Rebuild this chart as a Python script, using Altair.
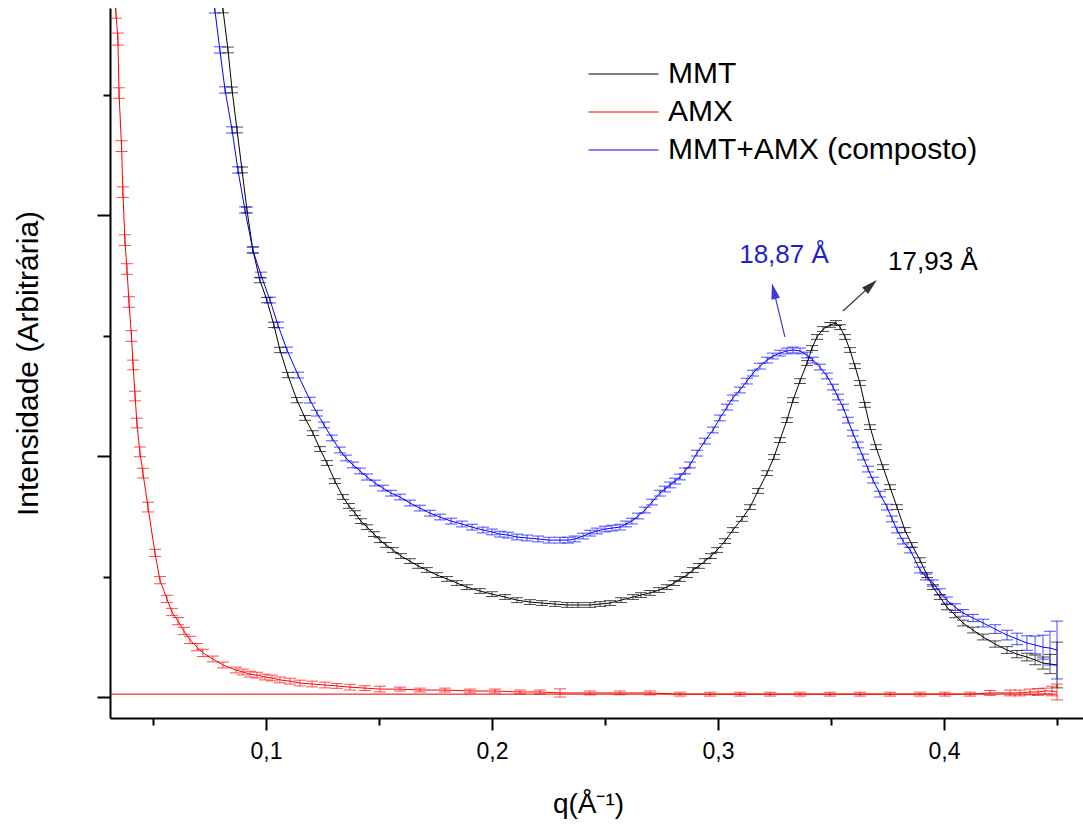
import altair as alt
import pandas as pd

SERIES = ["MMT", "AMX", "MMT+AMX (composto)"]
COLORS = ["#000000", "#ff0000", "#0000ff"]

# MMT (black)
mmt_q = [0.0801, 0.0810, 0.0832, 0.0850, 0.0872, 0.0894, 0.0916, 0.0942, 0.0973, 0.1004,
         0.1035, 0.1062, 0.1097, 0.1137, 0.1173, 0.1208, 0.1270, 0.1341, 0.1394, 0.1447,
         0.1504, 0.1562, 0.1637, 0.1712, 0.1801, 0.1889, 0.2000, 0.2111, 0.2221, 0.2332,
         0.2434, 0.2522, 0.2624, 0.2699, 0.2774, 0.2832, 0.2889, 0.2942, 0.2996, 0.3031,
         0.3066, 0.3106, 0.3142, 0.3177, 0.3217, 0.3248, 0.3274, 0.3305, 0.3332, 0.3363,
         0.3394, 0.3416, 0.3438, 0.3465, 0.3496, 0.3522, 0.3540, 0.3562, 0.3584, 0.3606,
         0.3628, 0.3650, 0.3673, 0.3699, 0.3730, 0.3761, 0.3792, 0.3827, 0.3858, 0.3894,
         0.3925, 0.3951, 0.3982, 0.4013, 0.4049, 0.4084, 0.4128, 0.4173, 0.4226, 0.4279,
         0.4323, 0.4367, 0.4403, 0.4438, 0.4469, 0.4500,
         0.1239, 0.1305, 0.1367, 0.1420, 0.1478, 0.1531, 0.1597, 0.1673, 0.1757, 0.1845,
         0.1947, 0.2058, 0.2168, 0.2279, 0.2381, 0.2478, 0.2571, 0.2659, 0.2739, 0.2805,
         0.2863, 0.2916, 0.2969]
mmt_i = [2.913, 2.851, 2.685, 2.519, 2.353, 2.187, 2.021, 1.855, 1.730, 1.647,
         1.544, 1.440, 1.336, 1.232, 1.158, 1.095, 0.971, 0.830, 0.763, 0.705,
         0.651, 0.610, 0.564, 0.527, 0.490, 0.456, 0.427, 0.402, 0.390, 0.382,
         0.382, 0.390, 0.415, 0.432, 0.456, 0.490, 0.527, 0.564, 0.610, 0.647,
         0.693, 0.739, 0.788, 0.855, 0.929, 0.996, 1.066, 1.149, 1.232, 1.311,
         1.386, 1.448, 1.494, 1.527, 1.544, 1.552, 1.535, 1.494, 1.440, 1.373,
         1.303, 1.212, 1.120, 1.037, 0.954, 0.871, 0.788, 0.693, 0.631, 0.568,
         0.506, 0.456, 0.415, 0.373, 0.340, 0.307, 0.278, 0.249, 0.220, 0.195,
         0.178, 0.166, 0.154, 0.141, 0.137, 0.133,
         1.029, 0.896, 0.793, 0.730, 0.676, 0.631, 0.585, 0.544, 0.506, 0.473,
         0.440, 0.415, 0.394, 0.386, 0.382, 0.386, 0.402, 0.423, 0.444, 0.473,
         0.506, 0.544, 0.585]
mmt_err = [0.012, 0.012, 0.012, 0.012, 0.012, 0.012, 0.012, 0.012, 0.011, 0.011,
           0.011, 0.011, 0.011, 0.011, 0.010, 0.010, 0.010, 0.010, 0.010, 0.010,
           0.010, 0.010, 0.010, 0.010, 0.010, 0.010, 0.010, 0.010, 0.010, 0.010,
           0.010, 0.010, 0.010, 0.010, 0.010, 0.010, 0.010, 0.010, 0.010, 0.010,
           0.010, 0.010, 0.010, 0.010, 0.010, 0.010, 0.010, 0.010, 0.010, 0.010,
           0.010, 0.010, 0.010, 0.010, 0.010, 0.010, 0.010, 0.010, 0.010, 0.010,
           0.010, 0.010, 0.010, 0.010, 0.010, 0.010, 0.010, 0.010, 0.010, 0.010,
           0.010, 0.010, 0.010, 0.011, 0.011, 0.012, 0.012, 0.012, 0.013, 0.014,
           0.015, 0.016, 0.020, 0.025, 0.040, 0.095,
           0.010, 0.010, 0.010, 0.010, 0.010, 0.010, 0.010, 0.010, 0.010, 0.010,
           0.010, 0.010, 0.010, 0.010, 0.010, 0.010, 0.010, 0.010, 0.010, 0.010,
           0.010, 0.010, 0.010]

# MMT+AMX composite (blue)
cmp_q = [0.0761, 0.0774, 0.0796, 0.0819, 0.0850, 0.0876, 0.0907, 0.0942, 0.0978, 0.1018,
         0.1053, 0.1093, 0.1142, 0.1195, 0.1257, 0.1327, 0.1385, 0.1447, 0.1518, 0.1593,
         0.1681, 0.1770, 0.1867, 0.1960, 0.2035, 0.2111, 0.2204, 0.2301, 0.2367, 0.2434,
         0.2500, 0.2566, 0.2619, 0.2677, 0.2743, 0.2788, 0.2832, 0.2876, 0.2907, 0.2942,
         0.2978, 0.3009, 0.3040, 0.3066, 0.3097, 0.3128, 0.3155, 0.3186, 0.3217, 0.3243,
         0.3274, 0.3305, 0.3332, 0.3363, 0.3394, 0.3420, 0.3451, 0.3482, 0.3509, 0.3531,
         0.3553, 0.3575, 0.3597, 0.3619, 0.3642, 0.3664, 0.3686, 0.3717, 0.3748, 0.3770,
         0.3792, 0.3819, 0.3850, 0.3894, 0.3920, 0.3951, 0.3982, 0.4013, 0.4049, 0.4084,
         0.4128, 0.4173, 0.4226, 0.4279, 0.4323, 0.4367, 0.4403, 0.4438, 0.4469, 0.4500,
         0.1226, 0.1292, 0.1354, 0.1416, 0.1482, 0.1553, 0.1637, 0.1726, 0.1819, 0.1912,
         0.2000, 0.2071, 0.2155, 0.2252, 0.2336, 0.2403, 0.2465, 0.2531, 0.2593, 0.2646,
         0.2708, 0.2765, 0.2810, 0.2854]
cmp_i = [2.913, 2.851, 2.685, 2.519, 2.353, 2.187, 2.021, 1.855, 1.751, 1.647,
         1.544, 1.440, 1.336, 1.232, 1.129, 1.025, 0.963, 0.913, 0.867, 0.830,
         0.784, 0.747, 0.718, 0.693, 0.676, 0.664, 0.656, 0.651, 0.656, 0.680,
         0.697, 0.705, 0.730, 0.776, 0.846, 0.880, 0.913, 0.963, 1.012, 1.062,
         1.108, 1.158, 1.203, 1.241, 1.274, 1.311, 1.344, 1.373, 1.398, 1.415,
         1.427, 1.436, 1.440, 1.436, 1.419, 1.398, 1.369, 1.332, 1.286, 1.245,
         1.203, 1.149, 1.095, 1.046, 0.996, 0.946, 0.900, 0.842, 0.788, 0.739,
         0.693, 0.647, 0.610, 0.527, 0.498, 0.473, 0.436, 0.402, 0.373, 0.349,
         0.328, 0.307, 0.282, 0.257, 0.241, 0.224, 0.216, 0.207, 0.203, 0.195,
         1.178, 1.075, 0.992, 0.938, 0.888, 0.846, 0.805, 0.763, 0.730, 0.705,
         0.685, 0.672, 0.660, 0.651, 0.651, 0.668, 0.689, 0.701, 0.718, 0.751,
         0.809, 0.863, 0.896, 0.938]
cmp_err = [0.013, 0.013, 0.013, 0.013, 0.013, 0.013, 0.013, 0.013, 0.012, 0.012,
           0.012, 0.012, 0.012, 0.012, 0.012, 0.012, 0.012, 0.012, 0.012, 0.012,
           0.012, 0.012, 0.012, 0.012, 0.012, 0.012, 0.012, 0.012, 0.012, 0.012,
           0.012, 0.012, 0.012, 0.012, 0.012, 0.012, 0.012, 0.012, 0.012, 0.012,
           0.012, 0.012, 0.012, 0.012, 0.012, 0.012, 0.012, 0.012, 0.012, 0.012,
           0.012, 0.012, 0.012, 0.012, 0.012, 0.012, 0.012, 0.012, 0.012, 0.012,
           0.012, 0.012, 0.012, 0.012, 0.012, 0.012, 0.012, 0.012, 0.012, 0.012,
           0.012, 0.012, 0.012, 0.012, 0.012, 0.013, 0.013, 0.013, 0.014, 0.014,
           0.015, 0.016, 0.018, 0.020, 0.024, 0.030, 0.037, 0.050, 0.070, 0.120,
           0.012, 0.012, 0.012, 0.012, 0.012, 0.012, 0.012, 0.012, 0.012, 0.012,
           0.012, 0.012, 0.012, 0.012, 0.012, 0.012, 0.012, 0.012, 0.012, 0.012,
           0.012, 0.012, 0.012, 0.012]

# AMX (red)
amx_q = [0.0327, 0.0336, 0.0345, 0.0350, 0.0361, 0.0367, 0.0376, 0.0385, 0.0394, 0.0405,
         0.0412, 0.0421, 0.0429, 0.0442, 0.0456, 0.0478, 0.0509, 0.0531, 0.0562, 0.0584,
         0.0611, 0.0637, 0.0664, 0.0695, 0.0721, 0.0765, 0.0810, 0.0867, 0.0929, 0.0996,
         0.1062, 0.1150, 0.1261, 0.1372, 0.1504, 0.1681, 0.1903, 0.2124, 0.2301, 0.2566,
         0.2832, 0.3097, 0.3363, 0.3628, 0.3894, 0.4115, 0.4292, 0.4381, 0.4447, 0.4500,
         0.0898, 0.0960, 0.1027, 0.1106, 0.1204, 0.1314, 0.1438, 0.1593, 0.1792, 0.2013,
         0.2212, 0.2434, 0.2699, 0.2965, 0.3230, 0.3496, 0.3761, 0.4004, 0.4204, 0.4336,
         0.4416, 0.4478]
amx_i = [2.913, 2.842, 2.730, 2.506, 2.286, 2.095, 1.896, 1.776, 1.639, 1.498,
         1.378, 1.249, 1.137, 1.017, 0.929, 0.788, 0.598, 0.485, 0.407, 0.353,
         0.315, 0.274, 0.237, 0.207, 0.183, 0.158, 0.133, 0.112, 0.095, 0.083,
         0.071, 0.058, 0.050, 0.041, 0.033, 0.029, 0.025, 0.021, 0.017, 0.017,
         0.012, 0.012, 0.012, 0.012, 0.012, 0.012, 0.017, 0.021, 0.025, 0.021,
         0.104, 0.091, 0.079, 0.066, 0.054, 0.046, 0.037, 0.033, 0.029, 0.025,
         0.021, 0.017, 0.017, 0.012, 0.012, 0.012, 0.012, 0.012, 0.017, 0.017,
         0.021, 0.025]
amx_err = [0.025, 0.025, 0.025, 0.022, 0.022, 0.022, 0.022, 0.022, 0.022, 0.022,
           0.020, 0.020, 0.020, 0.020, 0.020, 0.020, 0.015, 0.015, 0.015, 0.015,
           0.015, 0.015, 0.015, 0.015, 0.015, 0.012, 0.012, 0.012, 0.012, 0.012,
           0.012, 0.012, 0.012, 0.012, 0.012, 0.008, 0.008, 0.008, 0.017, 0.008,
           0.008, 0.008, 0.008, 0.008, 0.008, 0.008, 0.012, 0.012, 0.012, 0.033,
           0.012, 0.012, 0.012, 0.012, 0.012, 0.010, 0.010, 0.008, 0.008, 0.008,
           0.008, 0.008, 0.008, 0.008, 0.008, 0.008, 0.008, 0.008, 0.010, 0.012,
           0.014, 0.020]

# red horizontal baseline drawn across the plot
baseline_q = [0.031, 0.450]
baseline_i = [0.012, 0.012]

# peak annotations
ann_text = ["18,87 Å", "17,93 Å"]
ann_q = [0.3292, 0.3951]
ann_i = [1.801, 1.772]
ann_color = ["#1f1fd0", "#000000"]
arrow_q0 = [0.3296, 0.3553]
arrow_i0 = [1.494, 1.602]
arrow_q1 = [0.3247, 0.3677]
arrow_i1 = [1.685, 1.708]
arrow_angle = [346.5, 47.6]
arrow_color = ["#3b3bd6", "#333333"]

x_major = [0.1, 0.2, 0.3, 0.4]
x_minor = [0.05, 0.15, 0.25, 0.35, 0.45]
y_major = [0, 1, 2]
y_minor = [0.5, 1.5, 2.5]
X_DOMAIN = [0.031, 0.4615]
Y_DOMAIN = [-0.087, 2.859]

FONT = "Liberation Sans"

frames = []
for name, qs, vals, errs in [(SERIES[0], mmt_q, mmt_i, mmt_err),
                             (SERIES[1], amx_q, amx_i, amx_err),
                             (SERIES[2], cmp_q, cmp_i, cmp_err)]:
    frames.append(pd.DataFrame({"serie": name, "q": qs, "I": vals, "err": errs}))
df = pd.concat(frames, ignore_index=True).sort_values(["serie", "q"]).reset_index(drop=True)
df["lo"] = df["I"] - df["err"]
df["hi"] = df["I"] + df["err"]

xs = alt.Scale(domain=X_DOMAIN, nice=False, zero=False)
ys = alt.Scale(domain=Y_DOMAIN, nice=False, zero=False)
cs = alt.Scale(domain=SERIES, range=COLORS)

x_axis_major = alt.Axis(values=x_major, orient="bottom", tickSize=12, tickWidth=2, tickColor="black",
                        domainWidth=2, domainColor="black", grid=False,
                        labelExpr="replace(format(datum.value, '.1f'), '.', ',')",
                        labelFont=FONT, labelFontSize=23, labelColor="black", labelPadding=10,
                        title="q(Å⁻¹)", titleFont=FONT, titleFontSize=28, titleFontWeight="normal",
                        titleColor="black", titleX=478, titleY=94, titleBaseline="alphabetic")
y_axis_major = alt.Axis(values=y_major, orient="left", tickSize=13, tickWidth=2, tickColor="black",
                        domainWidth=2, domainColor="black", grid=False, labels=False,
                        title="Intensidade (Arbitrária)", titleFont=FONT, titleFontSize=30,
                        titleFontWeight="normal", titleColor="black", titleX=-67, titleY=355)
x_axis_minor = alt.Axis(values=x_minor, orient="bottom", tickSize=7, tickWidth=2, tickColor="black",
                        domain=False, grid=False, labels=False, title=None)
y_axis_minor = alt.Axis(values=y_minor, orient="left", tickSize=7, tickWidth=2, tickColor="black",
                        domain=False, grid=False, labels=False, title=None)

legend = alt.Legend(title=None, orient="none", legendX=478, legendY=51, symbolType="stroke",
                    symbolSize=4900, symbolStrokeWidth=1, labelFont=FONT, labelFontSize=30,
                    labelColor="black", labelOffset=9, rowPadding=8, padding=0,
                    clipHeight=30, labelLimit=500)

base = alt.Chart(df)

lines = base.mark_line(strokeWidth=1, clip=True).encode(
    x=alt.X("q:Q", scale=xs, axis=x_axis_major),
    y=alt.Y("I:Q", scale=ys, axis=y_axis_major),
    color=alt.Color("serie:N", scale=cs, legend=legend),
    detail="serie:N",
    order="q:Q",
)

bars = base.mark_rule(strokeWidth=1, opacity=0.7, clip=True).encode(
    x=alt.X("q:Q", scale=xs, axis=x_axis_minor),
    y=alt.Y("lo:Q", scale=ys, axis=y_axis_minor),
    y2="hi:Q",
    color=alt.Color("serie:N", scale=cs, legend=None),
)

cap_lo = base.mark_tick(orient="horizontal", size=12, thickness=1, opacity=0.7, clip=True).encode(
    x=alt.X("q:Q", scale=xs, axis=None),
    y=alt.Y("lo:Q", scale=ys, axis=None),
    color=alt.Color("serie:N", scale=cs, legend=None),
)
cap_hi = base.mark_tick(orient="horizontal", size=12, thickness=1, opacity=0.7, clip=True).encode(
    x=alt.X("q:Q", scale=xs, axis=None),
    y=alt.Y("hi:Q", scale=ys, axis=None),
    color=alt.Color("serie:N", scale=cs, legend=None),
)

bl_df = pd.DataFrame({"q0": [baseline_q[0]], "q1": [baseline_q[1]], "I": [baseline_i[0]]})
baseline = alt.Chart(bl_df).mark_rule(strokeWidth=1, color="#e00000", clip=True).encode(
    x=alt.X("q0:Q", scale=xs, axis=None), x2="q1:Q",
    y=alt.Y("I:Q", scale=ys, axis=None),
)

ann_df = pd.DataFrame({"t": ann_text, "q": ann_q, "I": ann_i, "c": ann_color})
ann = alt.Chart(ann_df).mark_text(font=FONT, fontSize=26, align="center", baseline="alphabetic").encode(
    x=alt.X("q:Q", scale=xs, axis=None),
    y=alt.Y("I:Q", scale=ys, axis=None),
    text="t:N",
    color=alt.Color("c:N", scale=None),
)

arr_df = pd.DataFrame({"q0": arrow_q0, "i0": arrow_i0, "q1": arrow_q1, "i1": arrow_i1,
                       "a": arrow_angle, "c": arrow_color})
arrow_lines = alt.Chart(arr_df).mark_rule(strokeWidth=1.2).encode(
    x=alt.X("q0:Q", scale=xs, axis=None), x2="q1:Q",
    y=alt.Y("i0:Q", scale=ys, axis=None), y2="i1:Q",
    color=alt.Color("c:N", scale=None),
)
arrow_heads = alt.Chart(arr_df).mark_point(shape="M0,-1L0.55,1L-0.55,1Z", filled=True, opacity=1,
                                           size=256).encode(
    x=alt.X("q1:Q", scale=xs, axis=None),
    y=alt.Y("i1:Q", scale=ys, axis=None),
    angle=alt.Angle("a:Q", scale=None),
    color=alt.Color("c:N", scale=None),
)

chart = alt.layer(lines, bars, cap_lo, cap_hi, baseline, arrow_lines, arrow_heads, ann).resolve_axis(
    x="independent", y="independent"
).properties(
    width=973, height=710,
    padding={"left": 110, "top": 8, "right": 0, "bottom": 107},
    autosize=alt.AutoSizeParams(type="none"),
    background="white",
).configure_view(strokeWidth=0, stroke="transparent")

chart.save("out.html", embed_options={"renderer": "svg", "actions": False})
